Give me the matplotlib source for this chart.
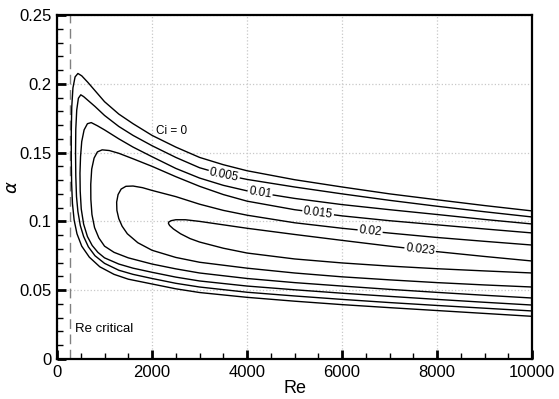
import numpy as np
import matplotlib
matplotlib.use("Agg")
import matplotlib.pyplot as plt
from matplotlib.ticker import MultipleLocator

plt.rcParams['font.family'] = ['Liberation Sans', 'DejaVu Sans']

# neutral curve (ci = 0) and growth-rate contours, traced upper branch -> nose -> lower branch
re_c0 = [10000, 9000, 8000, 7000, 6000, 5000, 4000, 3500, 3000, 2500,
         2000, 1600, 1300, 1000, 800, 650, 520, 440, 380, 335,
         310, 300, 300, 308, 325, 360, 420, 520, 680, 900,
         1200, 1500, 2000, 2500, 3000, 4000, 5000, 6000, 7000, 8000, 9000, 10000]
a_c0 = [0.1076, 0.1115, 0.1157, 0.120, 0.125, 0.1303, 0.1368, 0.1412, 0.1465, 0.154,
        0.1625, 0.171, 0.178, 0.187, 0.195, 0.201, 0.2058, 0.2075, 0.205, 0.197,
        0.183, 0.165, 0.145, 0.127, 0.113, 0.101, 0.091, 0.082, 0.074, 0.067,
        0.0615, 0.058, 0.0545, 0.051, 0.0483, 0.0448, 0.042, 0.0395, 0.0373, 0.0352, 0.0331, 0.031]

re_c1 = [10000, 9000, 8000, 7000, 6000, 5000, 4000, 3500, 3000, 2500,
         2000, 1600, 1300, 1000, 800, 650, 560, 500, 450, 415,
         395, 390, 395, 410, 440, 490, 560, 660, 800, 1000,
         1300, 1600, 2000, 2500, 3000, 4000, 5000, 6000, 7000, 8000, 9000, 10000]
a_c1 = [0.1032, 0.107, 0.111, 0.1153, 0.120, 0.125, 0.1305, 0.134, 0.139, 0.1465,
        0.155, 0.1625, 0.169, 0.177, 0.1835, 0.188, 0.1907, 0.192, 0.1895, 0.181,
        0.167, 0.150, 0.133, 0.118, 0.107, 0.097, 0.089, 0.0815, 0.075, 0.0695,
        0.0645, 0.0615, 0.0585, 0.055, 0.0523, 0.0485, 0.0458, 0.0433, 0.041, 0.0389, 0.0369, 0.0349]

re_c2 = [10000, 9000, 8000, 7000, 6000, 5000, 4000, 3500, 3000, 2500,
         2000, 1600, 1300, 1000, 850, 720, 640, 570, 520, 495,
         483, 488, 510, 560, 640, 740, 860, 1000, 1300, 1600,
         2000, 2500, 3000, 4000, 5000, 6000, 7000, 8000, 9000, 10000]
a_c2 = [0.0981, 0.1014, 0.105, 0.1085, 0.1122, 0.1167, 0.1222, 0.1262, 0.1315, 0.1385,
        0.147, 0.154, 0.160, 0.1665, 0.1695, 0.1718, 0.171, 0.1665, 0.158, 0.147,
        0.135, 0.122, 0.109, 0.098, 0.089, 0.0825, 0.0775, 0.0735, 0.069, 0.066,
        0.063, 0.0595, 0.0567, 0.053, 0.0503, 0.0478, 0.0455, 0.0433, 0.0412, 0.0392]

re_c3 = [10000, 9000, 8000, 7000, 6000, 5000, 4000, 3500, 3000, 2500,
         2000, 1600, 1300, 1100, 950, 850, 780, 730, 710, 712,
         735, 790, 880, 1000, 1200, 1500, 2000, 2500, 3000, 4000,
         5000, 6000, 7000, 8000, 9000, 10000]
a_c3 = [0.0916, 0.0945, 0.0975, 0.1005, 0.104, 0.1085, 0.1147, 0.1195, 0.1255, 0.1325,
        0.140, 0.1455, 0.1495, 0.1515, 0.152, 0.1505, 0.146, 0.138, 0.127, 0.116,
        0.105, 0.0955, 0.088, 0.082, 0.0775, 0.0735, 0.069, 0.0655, 0.0625, 0.0585,
        0.0555, 0.053, 0.0506, 0.0484, 0.0463, 0.0443]

re_c4 = [10000, 9000, 8000, 7000, 6000, 5000, 4000, 3500, 3000, 2500,
         2000, 1800, 1600, 1450, 1350, 1285, 1255, 1260, 1300, 1370,
         1480, 1700, 2000, 2500, 3000, 4000, 5000, 6000, 7000, 8000, 9000, 10000]
a_c4 = [0.0828, 0.0855, 0.0883, 0.0915, 0.095, 0.099, 0.1045, 0.108, 0.1125, 0.118,
        0.1225, 0.1245, 0.1257, 0.1255, 0.1235, 0.1195, 0.114, 0.108, 0.102, 0.0965,
        0.091, 0.0845, 0.079, 0.0738, 0.0703, 0.066, 0.0625, 0.0597, 0.0575, 0.0555, 0.0538, 0.0523]

re_c5 = [10000, 9000, 8000, 7000, 6000, 5000, 4000, 3500, 3000, 2700,
         2500, 2400, 2350, 2345, 2370, 2450, 2600, 2800, 3000, 3500,
         4000, 5000, 6000, 7000, 8000, 9000, 10000]
a_c5 = [0.0712, 0.0745, 0.078, 0.082, 0.0862, 0.0905, 0.095, 0.0975, 0.100, 0.1012,
        0.1012, 0.1005, 0.0995, 0.0985, 0.097, 0.0945, 0.091, 0.0875, 0.085, 0.0805,
        0.077, 0.0727, 0.0698, 0.0675, 0.0656, 0.064, 0.0625]

contours = [(re_c0, a_c0), (re_c1, a_c1), (re_c2, a_c2), (re_c3, a_c3), (re_c4, a_c4), (re_c5, a_c5)]
ci_labels = ['Ci = 0', '0.005', '0.01', '0.015', '0.02', '0.023']
label_re = [None, 3516, 4274, 5495, 6590, 7642]
label_rot = [0, -11.5, -9, -7.5, -6, -6.5]

re_critical = 280

fig = plt.figure(figsize=(5.59, 3.99), dpi=100)
ax = fig.add_axes([0.102, 0.1003, 0.850, 0.8621])

for (re, a) in contours:
    ax.plot(re, a, color='black', lw=1.0, zorder=3)

# inline contour labels sitting on the upper branch
for i, (re, a) in enumerate(contours):
    if label_re[i] is None:
        continue
    ip = int(np.argmax(a))
    y = np.interp(label_re[i], np.array(re[:ip + 1])[::-1], np.array(a[:ip + 1])[::-1])
    ax.text(label_re[i], y, ci_labels[i], fontsize=8.5, rotation=label_rot[i],
            ha='center', va='center', rotation_mode='anchor', zorder=4,
            bbox=dict(facecolor='white', edgecolor='none', pad=0.8))
ax.text(2421, 0.1657, ci_labels[0], fontsize=8.5, ha='center', va='center', zorder=4)

ax.axvline(re_critical, color='#808080', lw=1.0, dashes=(7, 4), zorder=2)
ax.text(380, 0.0218, 'Re critical', fontsize=9.5, ha='left', va='center')

ax.set_xlim(0, 10000)
ax.set_ylim(0, 0.25)
ax.set_xticks([0, 2000, 4000, 6000, 8000, 10000])
ax.set_xticklabels(['0', '2000', '4000', '6000', '8000', '10000'])
ax.set_yticks([0, 0.05, 0.1, 0.15, 0.2, 0.25])
ax.set_yticklabels(['0', '0.05', '0.1', '0.15', '0.2', '0.25'])
ax.xaxis.set_minor_locator(MultipleLocator(500))
ax.yaxis.set_minor_locator(MultipleLocator(0.01))

ax.grid(True, which='major', color='#c8c8c8', linestyle=':', lw=0.9)
ax.tick_params(which='both', direction='in', top=False, right=False, labelsize=12)
ax.tick_params(which='major', length=6.5, width=2.0, pad=4)
ax.tick_params(which='minor', length=4, width=1.0)
for s in ax.spines.values():
    s.set_linewidth(1.6)

ax.set_xlabel('Re', fontsize=13, labelpad=0)
ax.set_ylabel(r'$\alpha$', fontsize=13)
ax.yaxis.set_label_coords(-0.075, 0.5)

fig.savefig('out.png', dpi=100)
